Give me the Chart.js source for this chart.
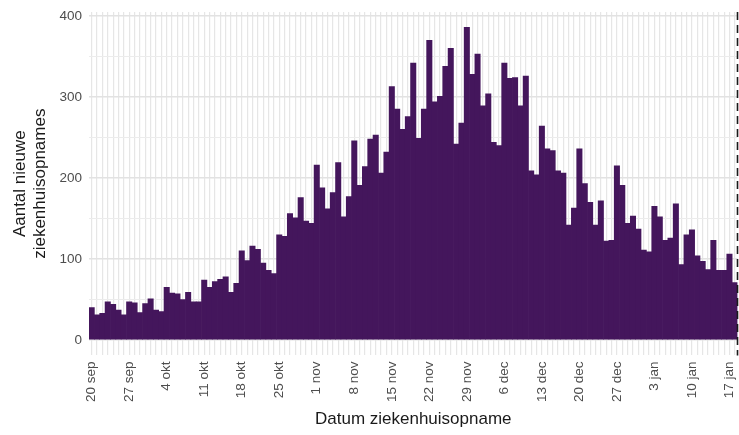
<!DOCTYPE html>
<html lang="nl">
<head>
<meta charset="UTF-8">
<title>Nieuwe ziekenhuisopnames</title>
<script src="https://cdn.jsdelivr.net/npm/chart.js"></script>
<style>
  body { margin: 0; background: #ffffff; }
  canvas { display: block; }
</style>
</head>
<body>
<canvas id="opnames" width="739" height="435"></canvas>
<script>
    // one bar per day, first bar is 20 sep 2020
    const startDate = new Date(2020, 8, 20);
    const monthNames = ['jan', 'feb', 'mrt', 'apr', 'mei', 'jun', 'jul', 'aug', 'sep', 'okt', 'nov', 'dec'];

    const tickLabels = ['20 sep', '27 sep', '4 okt', '11 okt', '18 okt', '25 okt', '1 nov', '8 nov', '15 nov',
        '22 nov', '29 nov', '6 dec', '13 dec', '20 dec', '27 dec', '3 jan', '10 jan', '17 jan'];

    const admissions = [
        40, 31, 33, 47, 44, 37, 31,
        47, 46, 34, 45, 51, 37, 35,
        65, 58, 57, 50, 59, 47, 47,
        74, 65, 72, 75, 78, 59, 70,
        110, 98, 116, 112, 95, 86, 82,
        130, 128, 156, 151, 176, 147, 144,
        216, 188, 162, 182, 219, 152, 177,
        246, 191, 214, 248, 253, 206, 232,
        313, 285, 260, 276, 342, 249, 285,
        370, 294, 301, 338, 360, 242, 268,
        386, 328, 353, 289, 304, 244, 240,
        342, 323, 324, 289, 326, 209, 204,
        264, 236, 234, 209, 206, 142, 163,
        236, 193, 170, 142, 172, 122, 123,
        215, 191, 144, 153, 137, 111, 109,
        165, 152, 123, 126, 168, 93, 130,
        136, 104, 97, 87, 123, 86, 86,
        106, 71
    ];

    const days = admissions.map((v, i) => {
        const d = new Date(startDate);
        d.setDate(d.getDate() + i);
        return d.getDate() + ' ' + monthNames[d.getMonth()];
    });

    // dashed marker after the last day
    const endLine = {
        id: 'endLine',
        afterDatasetsDraw(chart) {
            const {ctx, chartArea, scales} = chart;
            const half = (scales.x.getPixelForValue(1) - scales.x.getPixelForValue(0)) / 2;
            const x = scales.x.getPixelForValue(days.length - 1) + half;
            ctx.save();
            ctx.strokeStyle = '#1a1a1a';
            ctx.lineWidth = 1.6;
            ctx.setLineDash([8, 5]);
            ctx.beginPath();
            ctx.moveTo(x, chartArea.top);
            ctx.lineTo(x, chartArea.bottom);
            ctx.stroke();
            ctx.restore();
        }
    };

    const tickFont = {family: "'Liberation Sans', Arial, sans-serif", size: 13.5};
    const titleFont = {family: "'Liberation Sans', Arial, sans-serif", size: 17, lineHeight: 1.15};

    new Chart(document.getElementById('opnames').getContext('2d'), {
        type: 'bar',
        data: {
            labels: days,
            datasets: [{
                data: admissions,
                backgroundColor: '#44165c',
                borderWidth: 0,
                barPercentage: 1,
                categoryPercentage: 1
            }]
        },
        options: {
            responsive: false,
            animation: false,
            devicePixelRatio: 1,
            layout: {padding: {left: 0, right: 1.5, top: 12, bottom: 0}},
            plugins: {
                legend: {display: false},
                tooltip: {enabled: false}
            },
            scales: {
                x: {
                    offset: true,
                    border: {display: false},
                    grid: {
                        offset: false,
                        drawTicks: false,
                        color: '#e6e6e6',
                        lineWidth: 1.2
                    },
                    ticks: {
                        autoSkip: false,
                        minRotation: 90,
                        maxRotation: 90,
                        padding: 6,
                        color: '#4d4d4d',
                        font: tickFont,
                        callback: function (value, index) {
                            return tickLabels.includes(days[index]) ? days[index] : '';
                        }
                    },
                    title: {
                        display: true,
                        text: 'Datum ziekenhuisopname',
                        color: '#1a1a1a',
                        font: titleFont,
                        padding: {top: 0, bottom: 6}
                    },
                    afterFit: function (scale) {
                        scale.height = 79.6;
                        scale.paddingLeft = 0;
                        scale.paddingRight = 0;
                    }
                },
                y: {
                    min: -19,
                    max: 405,
                    border: {display: false},
                    grid: {
                        drawTicks: false,
                        color: ctx => ctx.tick.value % 100 === 0 ? '#e2e2e2' : '#ececec',
                        lineWidth: ctx => ctx.tick.value % 100 === 0 ? 1.5 : 1
                    },
                    ticks: {
                        stepSize: 50,
                        includeBounds: false,
                        padding: 7,
                        color: '#4d4d4d',
                        font: tickFont,
                        callback: value => value % 100 === 0 ? value : ''
                    },
                    title: {
                        display: true,
                        text: ['Aantal nieuwe', 'ziekenhuisopnames'],
                        color: '#1a1a1a',
                        font: titleFont,
                        padding: {top: 11, bottom: 0}
                    },
                    afterFit: function (scale) {
                        scale.width = 89;
                        scale.paddingTop = 0;
                        scale.paddingBottom = 0;
                    }
                }
            }
        },
        plugins: [endLine]
    });
</script>
</body>
</html>
